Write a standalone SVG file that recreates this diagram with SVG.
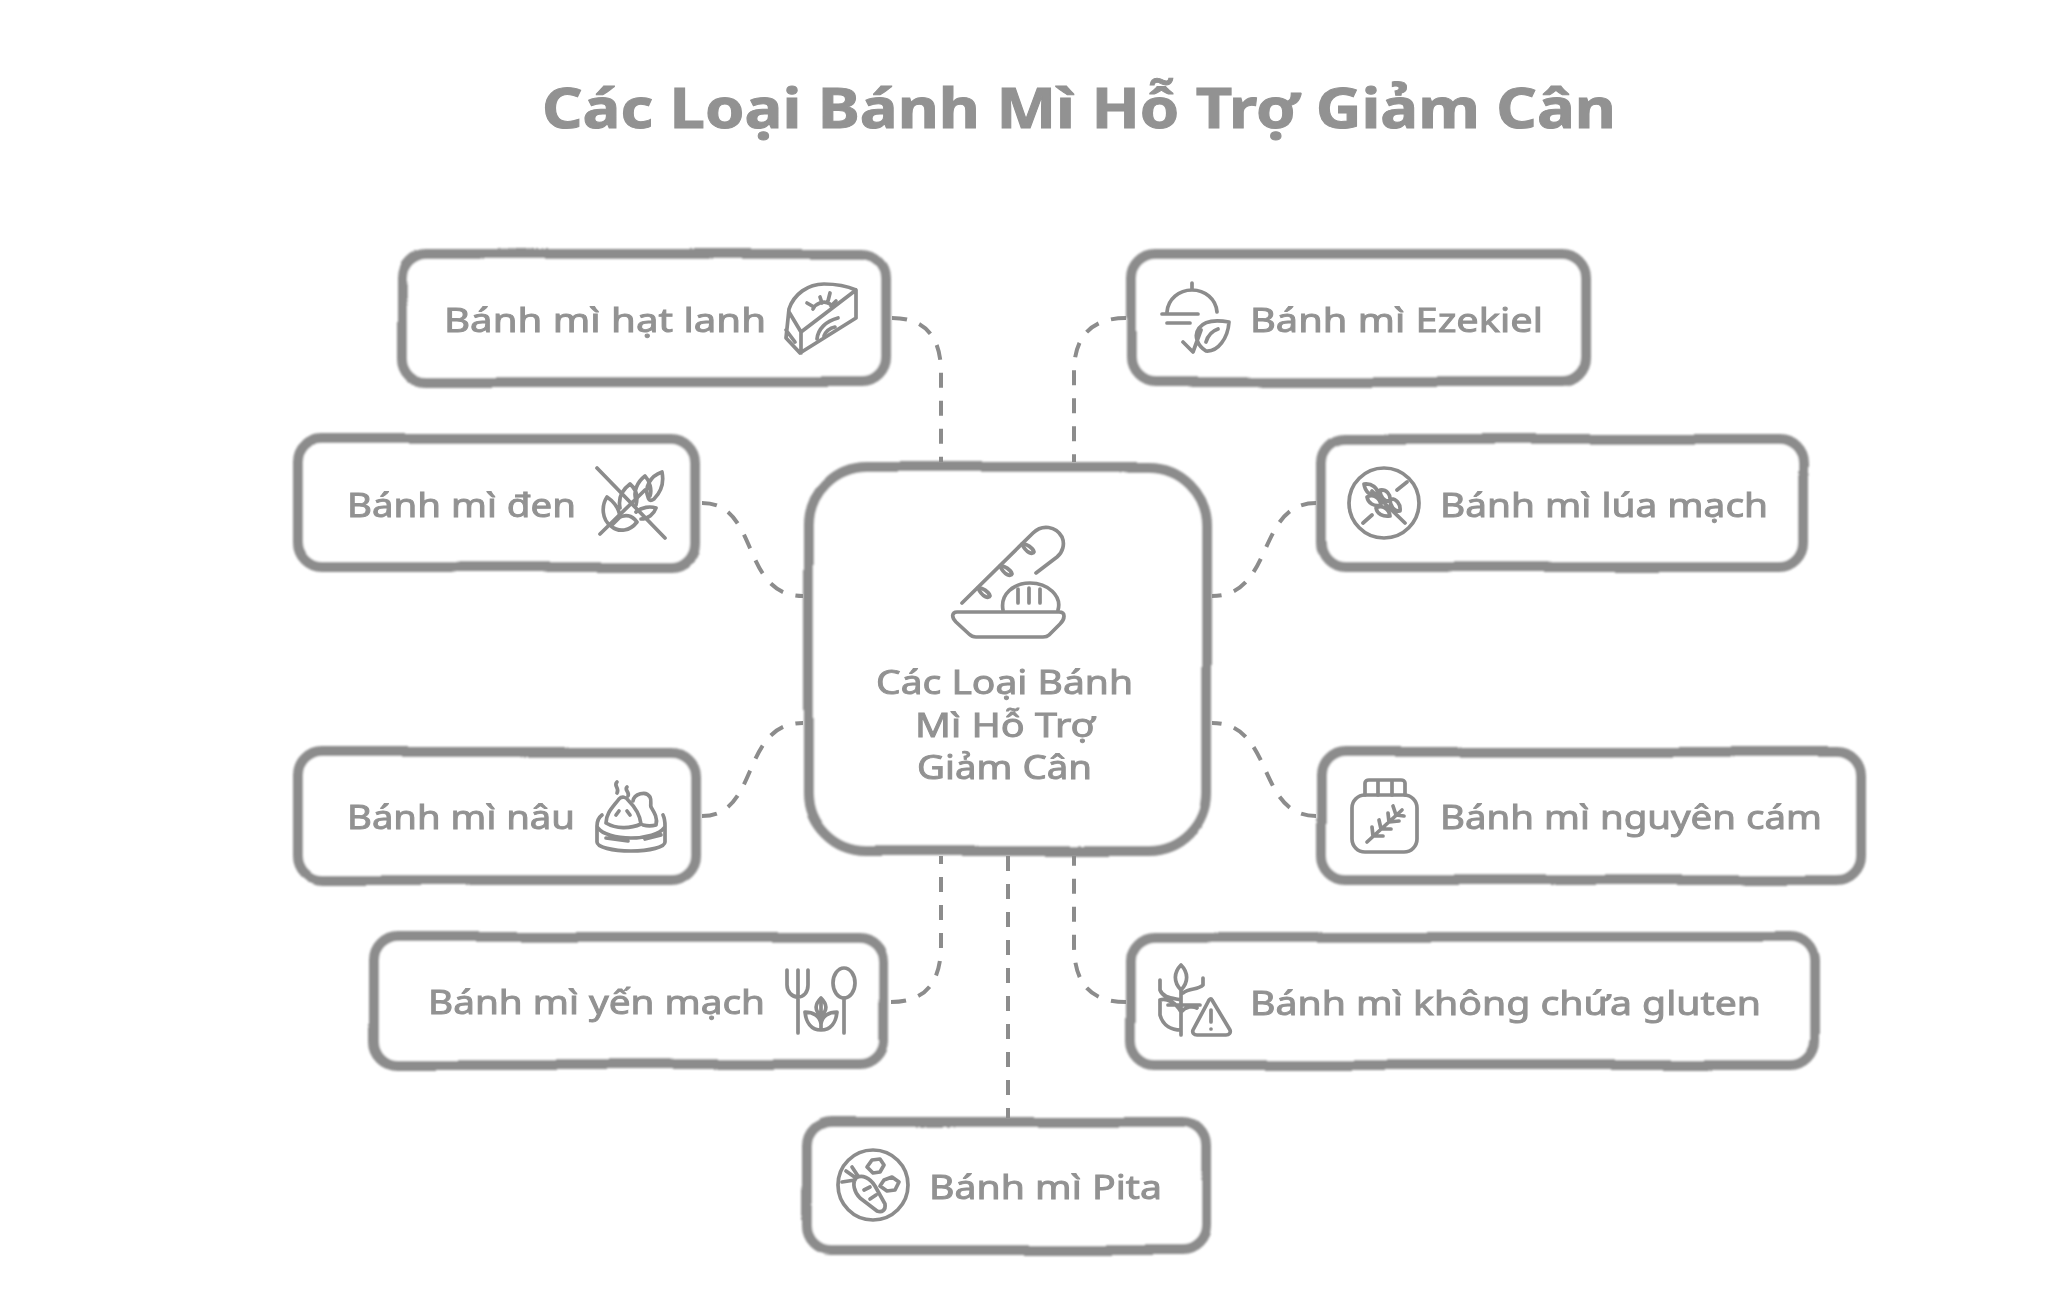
<svg xmlns="http://www.w3.org/2000/svg" width="2048" height="1300" viewBox="0 0 2048 1300">
<defs>
<filter id="wob" filterUnits="userSpaceOnUse" x="0" y="0" width="2048" height="1300">
<feTurbulence type="fractalNoise" baseFrequency="0.007" numOctaves="1" seed="4"/>
<feDisplacementMap in="SourceGraphic" scale="6" xChannelSelector="R" yChannelSelector="G"/>
<feGaussianBlur stdDeviation="0.8"/>
</filter>
<filter id="soft" filterUnits="userSpaceOnUse" x="0" y="0" width="2048" height="1300">
<feGaussianBlur stdDeviation="0.7"/>
</filter>
</defs>
<style>
.box{fill:#fff;stroke:#8c8c8c;stroke-width:10;filter:url(#wob)}
.ic{fill:none;stroke:#8c8c8c;stroke-width:3.7;stroke-linecap:round;stroke-linejoin:round;filter:url(#soft)}
.t{font-family:"Noto Sans","Open Sans","DejaVu Sans",sans-serif;font-size:32px;fill:#929292;stroke:#929292;stroke-width:.9;filter:url(#soft)}
.title{font-size:56px;font-weight:700;stroke-width:1}
.c{fill:none;stroke:#8c8c8c;stroke-width:4;stroke-dasharray:15 13;filter:url(#soft)}
</style>
<rect width="2048" height="1300" fill="#fff"/>
<text id="title" class="t title" x="542" y="128" textLength="1074" lengthAdjust="spacingAndGlyphs">Các Loại Bánh Mì Hỗ Trợ Giảm Cân</text>
<g id="connectors">
<path class="c" d="M892 318C924 318 941 336 941 372V462"/>
<path class="c" d="M1126 318C1092 318 1074 336 1074 372V462"/>
<path class="c" d="M702 503C760 503 740 596 803 596"/>
<path class="c" d="M1316 503C1256 503 1275 596 1212 596"/>
<path class="c" d="M702 816C760 816 740 723 803 723"/>
<path class="c" d="M1316 816C1256 816 1275 723 1212 723"/>
<path class="c" d="M891 1002C923 1002 941 985 941 945V856"/>
<path class="c" d="M1126 1002C1092 1002 1074 985 1074 945V856"/>
<path class="c" d="M1008 856V1118"/>
</g>
<g id="center">
<rect class="box" x="808" y="467" width="399" height="384" rx="58"/>
<path class="ic" d="M962 603L1033 533C1042 524 1056 526 1062 537C1065 544 1063 552 1057 557L1036 573"/>
<path class="ic" d="M1022 544C1026 543 1033 548 1034 552C1033 555 1026 553 1022 544ZM1000 566C1004 565 1011 570 1012 574C1011 577 1004 575 1000 566ZM978 588C982 587 989 592 990 596C989 599 982 597 978 588Z"/>
<path class="ic" d="M1003 610C1000 594 1014 583 1030 583C1048 583 1062 596 1058 610"/>
<path class="ic" d="M1018 589V603M1029 588V603M1040 589V603"/>
<path class="ic" d="M957 612H1059C1066 612 1065 619 1060 624L1049 635C1047 637 1045 637 1043 637H976C973 637 971 636 969 634L956 622C951 617 952 612 957 612Z"/>
<text class="t" x="876" y="694" textLength="257" lengthAdjust="spacingAndGlyphs">Các Loại Bánh</text>
<text class="t" x="915" y="737" textLength="180" lengthAdjust="spacingAndGlyphs">Mì Hỗ Trợ</text>
<text class="t" x="917" y="779" textLength="175" lengthAdjust="spacingAndGlyphs">Giảm Cân</text>
</g>
<g id="n-hat-lanh">
<rect class="box" x="402" y="254" width="484" height="128" rx="24"/>
<text class="t" x="444" y="332" textLength="322" lengthAdjust="spacingAndGlyphs">Bánh mì hạt lanh</text>
<path class="ic" d="M789 309C794 294 808 284 824 284C836 284 847 286 856 290V318L800 353L786 338ZM856 290L801 332L789 312M801 332V353M786 330L795 342"/>
<path class="ic" d="M813 309C816 303 824 300 830 304M820 297L822 303M830 293L828 301M807 303L814 307M836 301L831 306"/>
<path class="ic" d="M817 339C818 329 826 321 838 318M824 336C826 331 830 328 835 327"/>
</g>
<g id="n-den">
<rect class="box" x="298" y="439" width="398" height="128" rx="24"/>
<text class="t" x="347" y="517" textLength="229" lengthAdjust="spacingAndGlyphs">Bánh mì đen</text>
<path class="ic" d="M597 468L665 538M600 534L645 490"/>
<path class="ic" d="M611 526C602 520 601 506 607 497C613 501 619 508 620 517ZM611 526C619 533 630 531 637 522C632 515 625 514 618 518M620 508C618 498 622 490 630 484C636 489 638 497 636 505M636 500C633 492 637 482 645 476C650 481 652 490 650 496M648 497C644 488 650 476 662 472C664 482 661 492 654 499C651 501 649 501 648 497ZM636 512C642 507 650 506 656 508C654 514 648 519 641 519"/>
</g>
<g id="n-nau">
<rect class="box" x="298" y="752" width="398" height="128" rx="24"/>
<text class="t" x="347" y="829" textLength="228" lengthAdjust="spacingAndGlyphs">Bánh mì nâu</text>
<path class="ic" d="M602 815C598 818 597 822 597 826V842C597 847 612 851 631 851C650 851 665 847 665 842V826C665 822 665 819 663 815"/>
<path class="ic" d="M598 828C602 834 616 838 631 838C646 838 660 834 664 828M606 838L628 841M645 839L661 835"/>
<path class="ic" d="M606 823C606 813 613 807 619 799C622 796 626 797 628 800C634 806 640 814 641 824C630 829 616 829 606 823ZM616 815L619 811M627 811L630 815"/>
<path class="ic" d="M633 801C634 794 646 790 650 797C652 801 650 804 651 807C654 812 658 818 656 825C652 826 647 826 643 825"/>
<path class="ic" d="M617 782C613 786 620 788 617 793M627 787C624 790 630 792 628 796"/>
</g>
<g id="n-yen-mach">
<rect class="box" x="374" y="937" width="510" height="128" rx="24"/>
<text class="t" x="428" y="1014" textLength="337" lengthAdjust="spacingAndGlyphs">Bánh mì yến mạch</text>
<path class="ic" d="M787 970V985C787 992 792 997 798 997C804 997 808 992 808 985V970M798 970V1033"/>
<ellipse class="ic" cx="844" cy="983" rx="11" ry="15"/>
<path class="ic" d="M844 998V1033"/>
<path class="ic" d="M821 1030V998M821 998C815 1004 814 1010 821 1016C828 1010 827 1004 821 998ZM821 1030C811 1030 806 1022 805 1012C813 1012 820 1016 821 1024C822 1016 829 1012 837 1012C836 1022 831 1030 821 1030Z"/>
</g>
<g id="n-ezekiel">
<rect class="box" x="1131" y="254" width="455" height="128" rx="24"/>
<text class="t" x="1250" y="332" textLength="293" lengthAdjust="spacingAndGlyphs">Bánh mì Ezekiel</text>
<path class="ic" d="M1167 312C1168 299 1179 290 1192 290C1205 290 1216 299 1217 312M1192 283V290M1162 314H1198M1167 323H1190"/>
<path class="ic" d="M1229 322C1218 320 1205 320 1199 328C1193 336 1198 346 1206 351C1218 352 1228 338 1229 322ZM1183 342L1193 352L1201 330M1206 342C1208 335 1212 331 1218 329"/>
</g>
<g id="n-lua-mach">
<rect class="box" x="1321" y="439" width="482" height="128" rx="24"/>
<text class="t" x="1440" y="517" textLength="328" lengthAdjust="spacingAndGlyphs">Bánh mì lúa mạch</text>
<circle class="ic" cx="1384" cy="503" r="35"/>
<path class="ic" d="M1397 490L1407 482M1363 523L1372 515"/>
<path class="ic" d="M1372 491L1405 523M1364 484C1372 483 1378 488 1378 495C1371 497 1365 492 1364 484ZM1367 497C1373 493 1380 498 1381 505C1374 507 1368 503 1367 497ZM1380 490C1386 489 1391 494 1390 501C1384 502 1380 496 1380 490ZM1376 508C1382 504 1389 509 1390 516C1383 517 1377 514 1376 508ZM1390 499C1396 498 1401 504 1400 511C1394 512 1390 506 1390 499Z"/>
</g>
<g id="n-nguyen-cam">
<rect class="box" x="1321" y="752" width="540" height="128" rx="24"/>
<text class="t" x="1440" y="829" textLength="382" lengthAdjust="spacingAndGlyphs">Bánh mì nguyên cám</text>
<rect class="ic" x="1352" y="795" width="65" height="57" rx="13"/>
<path class="ic" d="M1365 795V783C1365 781 1367 780 1369 780H1401C1403 780 1405 781 1405 783V795M1378 781V795M1392 781V795"/>
<path class="ic" d="M1367 842L1402 810M1373 836L1372 827M1373 836L1383 836M1381 829L1379 820M1381 829L1391 829M1389 822L1388 813M1389 822L1399 821M1396 815L1393 806M1396 815L1404 816"/>
</g>
<g id="n-gluten">
<rect class="box" x="1131" y="937" width="683" height="128" rx="24"/>
<text class="t" x="1250" y="1015" textLength="511" lengthAdjust="spacingAndGlyphs">Bánh mì không chứa gluten</text>
<path class="ic" d="M1181 1035V998M1181 965C1174 972 1173 982 1181 990C1189 982 1188 972 1181 965ZM1181 990V1000M1160 980V990C1163 998 1172 998 1181 1000M1203 978V985C1198 990 1190 988 1183 993M1160 1000C1166 998 1176 1002 1181 1012M1160 1000V1015C1163 1026 1172 1030 1181 1030M1168 1005H1200M1181 1012C1186 1006 1193 1006 1197 1008"/>
<path class="ic" d="M1212 1000L1230 1030C1231 1033 1229 1035 1226 1035H1197C1194 1035 1192 1033 1193 1030L1208 1002C1209 999 1211 998 1212 1000ZM1211 1010V1022M1211 1029V1029"/>
</g>
<g id="n-pita">
<rect class="box" x="808" y="1122" width="399" height="128" rx="24"/>
<text class="t" x="929" y="1199" textLength="233" lengthAdjust="spacingAndGlyphs">Bánh mì Pita</text>
<circle class="ic" cx="873" cy="1185" r="35"/>
<path class="ic" d="M856 1178C862 1174 870 1178 875 1186L885 1204C886 1210 882 1213 877 1211L860 1198C854 1192 852 1183 856 1178ZM856 1178L846 1171M855 1180L842 1182M858 1176L852 1167M864 1190L870 1187M870 1199L876 1195"/>
<path class="ic" d="M872 1160L880 1159L884 1165L880 1172L873 1173L867 1167ZM884 1180L892 1177L899 1182L895 1190L887 1191L880 1186Z"/>
</g>
</svg>
